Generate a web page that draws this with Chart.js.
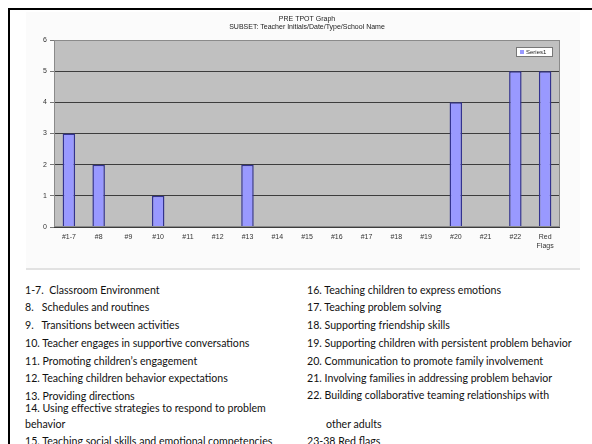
<!DOCTYPE html>
<html>
<head>
<meta charset="utf-8">
<script src="https://cdn.jsdelivr.net/npm/chart.js@4/dist/chart.umd.min.js"></script>
<style>
  html, body { margin: 0; padding: 0; background: #fff; }
  body { width: 592px; height: 444px; position: relative; overflow: hidden; }
  #frame { position: absolute; left: 8px; top: 8px; right: -10px; bottom: -10px;
           border-left: 2px solid #000; border-top: 2px solid #000; }
  #chartBox { position: absolute; left: 26px; top: 12px; width: 554px; height: 256px;
              background: #fbfbfb; border-bottom: 2px solid #e2e2e2; }
  #chartBox canvas { filter: blur(0.7px); }
  .note { position: absolute; font-family: Lato, "Open Sans", sans-serif; font-size: 10.6px;
          line-height: 12px; color: #111; white-space: pre; }
</style>
</head>
<body>
<div id="frame"></div>
<div id="chartBox"><canvas id="c" width="554" height="256"></canvas></div>
<div id="notes"></div>
<script>
// Checklist item groups along the x axis and the score for each
const categories = ['#1-7', '#8', '#9', '#10', '#11', '#12', '#13', '#14', '#15',
                    '#16', '#17', '#18', '#19', '#20', '#21', '#22', ['Red', 'Flags']];
const series1 = [3, 2, 0, 1, 0, 0, 2, 0, 0, 0, 0, 0, 0, 4, 0, 5, 5];
const yTicks = [0, 1, 2, 3, 4, 5, 6];
const titleLines = ['PRE TPOT Graph', 'SUBSET: Teacher Initials/Date/Type/School Name'];
const seriesName = 'Series1';

// Key printed under the chart
const leftNotes = [
  '1-7.  Classroom Environment',
  '8.   Schedules and routines',
  '9.   Transitions between activities',
  '10. Teacher engages in supportive conversations',
  '11. Promoting children\u2019s engagement',
  '12. Teaching children behavior expectations',
  '13. Providing directions',
  '14. Using effective strategies to respond to problem',
  'behavior',
  '15. Teaching social skills and emotional competencies'
];
const rightNotes = [
  '16. Teaching children to express emotions',
  '17. Teaching problem solving',
  '18. Supporting friendship skills',
  '19. Supporting children with persistent problem behavior',
  '20. Communication to promote family involvement',
  '21. Involving families in addressing problem behavior',
  '22. Building collaborative teaming relationships with',
  '       other adults',
  '23-38 Red flags'
];
const leftRows = [290, 307, 325, 343, 361, 378, 396, 408, 424, 441];
const rightRows = [290, 307, 325, 343, 361, 378, 395, 424, 441];

function placeNotes(lines, rows, x) {
  const holder = document.getElementById('notes');
  lines.forEach((t, i) => {
    const d = document.createElement('div');
    d.className = 'note';
    d.style.left = x + 'px';
    d.style.top = (rows[i] - 6) + 'px';
    d.textContent = t;
    holder.appendChild(d);
  });
}
placeNotes(leftNotes, leftRows, 25);
placeNotes(rightNotes, rightRows, 307);

// Gray plot background, titles and a boxed legend in the plot corner
const decor = {
  id: 'decor',
  beforeDraw(chart) {
    const { ctx, chartArea: a } = chart;
    ctx.save();
    ctx.fillStyle = '#c0c0c0';
    ctx.fillRect(a.left, a.top, a.right - a.left, a.bottom - a.top);
    ctx.restore();
  },
  afterDraw(chart) {
    const { ctx, chartArea: a } = chart;
    ctx.save();
    ctx.strokeStyle = '#8a8a8a';
    ctx.lineWidth = 1;
    ctx.strokeRect(a.left + 0.5, a.top + 0.5, a.right - a.left - 1, a.bottom - a.top - 1);

    ctx.fillStyle = '#222';
    ctx.textAlign = 'center';
    ctx.textBaseline = 'middle';
    ctx.font = '7px "Liberation Sans", Arial, sans-serif';
    const cx = (a.left + a.right) / 2;
    ctx.fillText(titleLines[0], cx, 7);
    ctx.fillText(titleLines[1], cx, 15);

    // legend box
    const lx = a.right - 44, ly = a.top + 7, lw = 36, lh = 9;
    ctx.fillStyle = '#fff';
    ctx.fillRect(lx, ly, lw, lh);
    ctx.strokeStyle = '#777';
    ctx.strokeRect(lx + 0.5, ly + 0.5, lw, lh);
    ctx.fillStyle = '#9999ff';
    ctx.fillRect(lx + 4, ly + 3, 4, 4);
    ctx.fillStyle = '#222';
    ctx.textAlign = 'left';
    ctx.font = '6px "Liberation Sans", Arial, sans-serif';
    ctx.fillText(seriesName, lx + 10, ly + lh / 2 + 0.5);
    ctx.restore();
  }
};

new Chart(document.getElementById('c'), {
  type: 'bar',
  data: {
    labels: categories,
    datasets: [{
      label: seriesName,
      data: series1,
      backgroundColor: '#9999ff',
      borderColor: '#33338f',
      borderWidth: 1.5,
      barPercentage: 0.42,
      categoryPercentage: 1.0
    }]
  },
  options: {
    responsive: false,
    animation: false,
    events: [],
    layout: { padding: { top: 28, right: 20, left: 0, bottom: 0 } },
    plugins: { legend: { display: false }, title: { display: false }, tooltip: { enabled: false } },
    scales: {
      x: {
        grid: { display: false, drawTicks: false },
        border: { display: false },
        ticks: { color: '#333', font: { size: 7, family: '"Liberation Sans", Arial, sans-serif' },
                  padding: 6, maxRotation: 0, autoSkip: false },
        afterFit(s) { s.height = 41; }
      },
      y: {
        min: yTicks[0],
        max: yTicks[yTicks.length - 1],
        afterBuildTicks(s) { s.ticks = yTicks.map(v => ({ value: v })); },
        grid: { color: '#3c3c3c', lineWidth: 1, drawTicks: true, tickLength: 4, tickColor: '#777' },
        border: { display: false },
        ticks: { color: '#333', font: { size: 7, family: '"Liberation Sans", Arial, sans-serif' }, padding: 3 },
        afterFit(s) { s.width = 28; }
      }
    }
  },
  plugins: [decor]
});
</script>
</body>
</html>
